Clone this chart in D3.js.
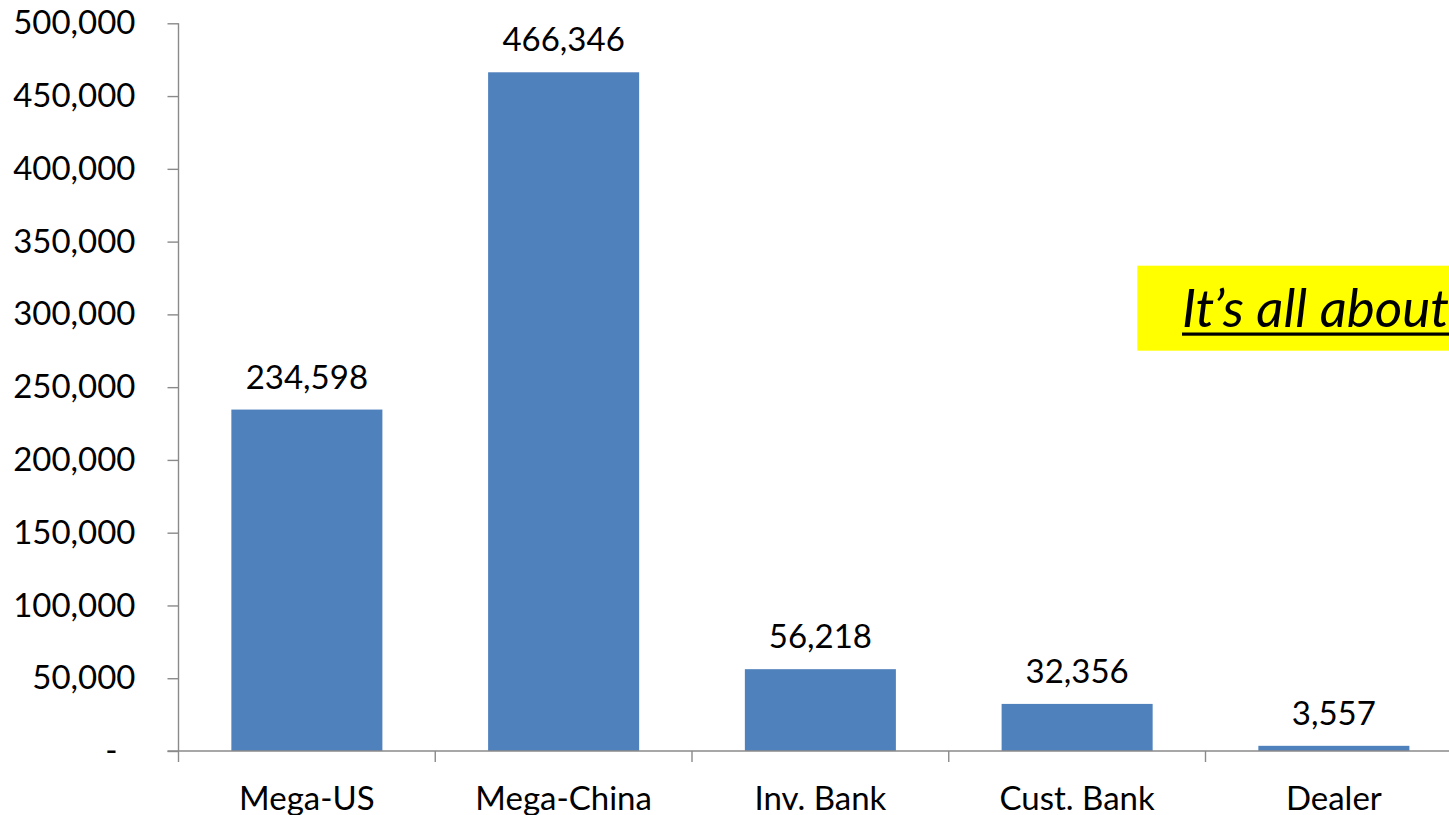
<!DOCTYPE html>
<html>
<head>
<meta charset="utf-8">
<script src="https://cdn.jsdelivr.net/npm/d3@7"></script>
<style>
  html, body { margin: 0; padding: 0; background: #fff; overflow: hidden; }
  svg { display: block; font-family: Lato, "Open Sans", sans-serif; }
</style>
</head>
<body>
<svg id="chart" width="1449" height="815"></svg>
<script>
// Bank categories and their values
const categories = ["Mega-US", "Mega-China", "Inv. Bank", "Cust. Bank", "Dealer"];
const values = [234598, 466346, 56218, 32356, 3557];

// Value axis ticks and their printed labels
const yTickValues = [0, 50000, 100000, 150000, 200000, 250000, 300000, 350000, 400000, 450000, 500000];
const yTickLabels = ["-", "50,000", "100,000", "150,000", "200,000", "250,000", "300,000", "350,000", "400,000", "450,000", "500,000"];

// Callout text
const calloutText = "It\u2019s all about";

const svg = d3.select("#chart");
const axisColor = "#8a8a8a";
const fontSize = 33;

const plotLeft = 178.5, plotBottom = 751, plotTop = 23.3;
const step = 256.75;

const y = d3.scaleLinear().domain([0, 500000]).range([plotBottom, plotTop]);
const x = d3.scaleBand()
  .domain(categories)
  .range([plotLeft, plotLeft + step * categories.length])
  .paddingInner(0.7 / 1.7)
  .paddingOuter(0.35 / 1.7);

// Bars
svg.append("g").selectAll("rect")
  .data(categories)
  .join("rect")
  .attr("x", (d) => x(d))
  .attr("width", x.bandwidth())
  .attr("y", (d, i) => y(values[i]))
  .attr("height", (d, i) => y(0) - y(values[i]))
  .attr("fill", "#4f81bd");

// Value labels above bars
const fmt = d3.format(",");
svg.append("g").selectAll("text")
  .data(categories)
  .join("text")
  .attr("x", (d) => x(d) + x.bandwidth() / 2)
  .attr("y", (d, i) => y(values[i]) - 21)
  .attr("text-anchor", "middle")
  .attr("font-size", fontSize)
  .attr("fill", "#000")
  .text((d, i) => fmt(values[i]));

// Value axis
const yAxis = d3.axisLeft(y)
  .tickValues(yTickValues)
  .tickFormat((d, i) => yTickLabels[i])
  .tickSize(11)
  .tickPadding(32);

const gy = svg.append("g")
  .attr("transform", `translate(${plotLeft},0)`)
  .call(yAxis);
gy.select(".domain").attr("stroke", axisColor).attr("stroke-width", 1.4)
  .attr("d", `M0,${plotTop}V${plotBottom}`);
gy.selectAll(".tick line").attr("stroke", axisColor).attr("stroke-width", 1.4);
gy.selectAll(".tick text")
  .attr("font-size", fontSize)
  .attr("fill", "#000")
  .attr("font-family", "Lato, 'Open Sans', sans-serif")
  .attr("dx", (d) => (d === 0 ? -18 : 0));

// Category axis
const boundaries = d3.range(categories.length + 1).map((i) => plotLeft + i * step);
const gx = svg.append("g");
gx.append("line")
  .attr("x1", plotLeft - 11).attr("x2", boundaries[boundaries.length - 1])
  .attr("y1", plotBottom).attr("y2", plotBottom)
  .attr("stroke", axisColor).attr("stroke-width", 1.4);
gx.selectAll("line.tick")
  .data(boundaries)
  .join("line")
  .attr("class", "tick")
  .attr("x1", (d) => d).attr("x2", (d) => d)
  .attr("y1", plotBottom).attr("y2", plotBottom + 11)
  .attr("stroke", axisColor).attr("stroke-width", 1.4);
gx.selectAll("text")
  .data(categories)
  .join("text")
  .attr("x", (d) => x(d) + x.bandwidth() / 2)
  .attr("y", 810)
  .attr("text-anchor", "middle")
  .attr("font-size", fontSize)
  .attr("fill", "#000")
  .text((d) => d);

// Highlighted callout box
const callout = svg.append("g");
callout.append("rect")
  .attr("x", 1137.3).attr("y", 265.7)
  .attr("width", 330).attr("height", 85)
  .attr("fill", "#ffff00");
const ct = callout.append("text")
  .attr("x", 1182).attr("y", 327)
  .attr("font-size", 53)
  .attr("font-style", "italic")
  .attr("fill", "#000")
  .text(calloutText);
const bb = ct.node().getBBox();
callout.append("rect")
  .attr("x", 1182).attr("y", 332.5)
  .attr("width", bb.width + 4).attr("height", 3.2)
  .attr("fill", "#000");
</script>
</body>
</html>
